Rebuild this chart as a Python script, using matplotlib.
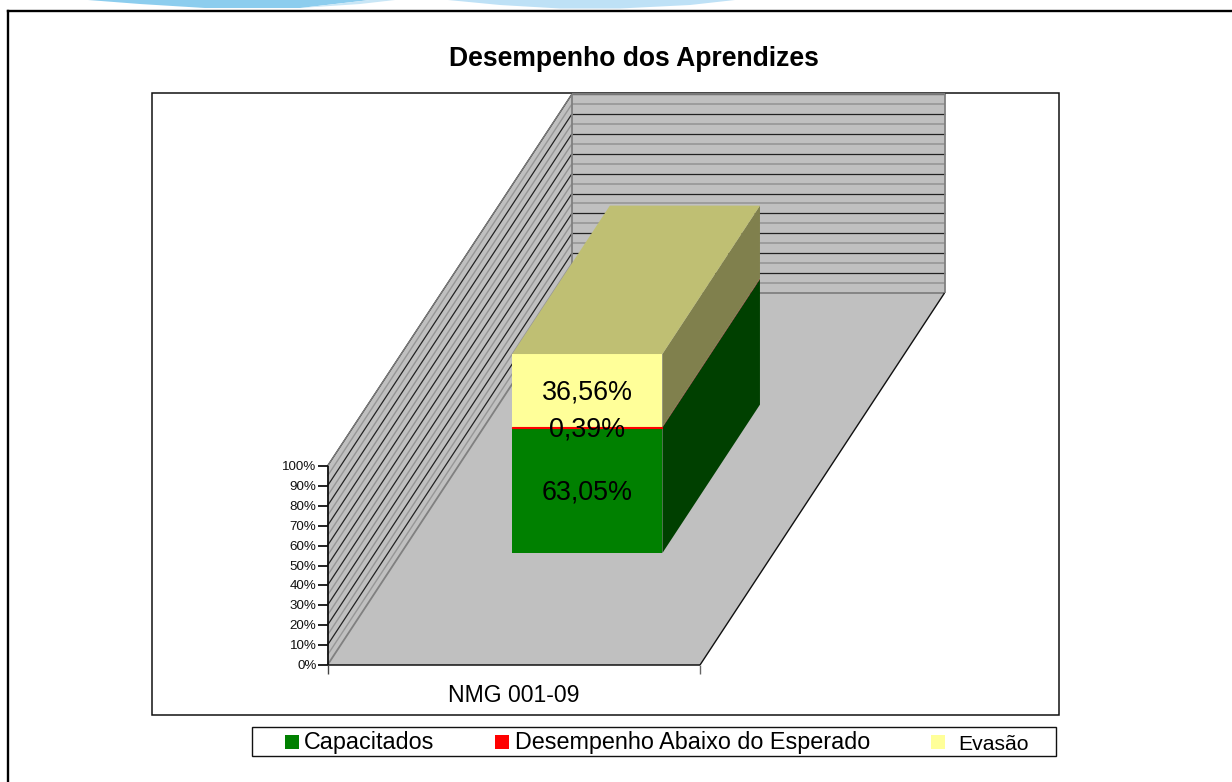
import matplotlib
matplotlib.use("Agg")
import matplotlib.pyplot as plt
from matplotlib.patches import Polygon, Rectangle

plt.rcParams['font.family'] = ['Liberation Sans', 'DejaVu Sans']

# ---- data ----
title = "Desempenho dos Aprendizes"
category = "NMG 001-09"
series_names = ["Capacitados", "Desempenho Abaixo do Esperado", "Evasão"]
series_values = [63.05, 0.39, 36.56]
series_labels = ["63,05%", "0,39%", "36,56%"]
tick_values = [0, 10, 20, 30, 40, 50, 60, 70, 80, 90, 100]
tick_labels = ["0%", "10%", "20%", "30%", "40%", "50%", "60%", "70%", "80%", "90%", "100%"]

# ---- styles ----
front_cols = ["#008000", "#FF0000", "#FFFF99"]
side_cols = ["#004000", "#800000", "#80804D"]
top_cols = ["#006000", "#C00000", "#BFBF73"]
face_edges = [0, 0.8, 0]
legend_sizes = [16.8, 16.8, 15.2]
wall = "#C0C0C0"
GRID_DARK = "#222222"
GRID_MINOR = "#979797"

# ---- layout: oblique projection of the 3-D chart box, in image pixels ----
ORG = (327.5, 665.0)
WIDTH = 372.5
DEPTH = (244.5, -372.0)
HEIGHT = 199.0
BAR_X0, BAR_X1 = 0.2985, 0.7015
BAR_D0, BAR_D1 = 0.301, 0.70


def P(x, d, v):
    """x: 0-1 across category, d: 0-1 depth, v: percent."""
    return (ORG[0] + WIDTH * x + DEPTH[0] * d,
            ORG[1] + DEPTH[1] * d - HEIGHT * v / 100.0)


fig = plt.figure(figsize=(12.32, 7.82), dpi=100, facecolor="white")
ax = fig.add_axes([0, 0, 1, 1])
ax.set_xlim(0, 1232)
ax.set_ylim(782, 0)
ax.axis("off")


def poly(pts, fc, z, ec="none", lw=0):
    ax.add_patch(Polygon(pts, closed=True, facecolor=fc, edgecolor=ec, linewidth=lw, zorder=z))


def line(a, b, c, lw, z):
    ax.plot([a[0], b[0]], [a[1], b[1]], color=c, lw=lw, zorder=z, solid_capstyle="butt")


# page decoration at the top
poly([(88, 0), (370, 0), (300, 8), (205, 8), (140, 4)], "#8CCDEE", 1)
poly([(300, 8), (370, 0), (395, 0), (360, 4)], "#C8E6F6", 1)
poly([(448, 0), (735, 0), (690, 5), (620, 8.5), (560, 8.5), (500, 5)], "#BEE1F6", 1)

# outer frame
ax.plot([8, 8], [782, 11], color="black", lw=1.7, zorder=2, solid_joinstyle="miter")
ax.plot([8, 1232], [11, 11], color="black", lw=1.7, zorder=2)

# chart area
ax.add_patch(Rectangle((152, 92.5), 906.5, 622, fc="white", ec="#111111", lw=1.1, zorder=2))

ax.text(633.5, 59.5, title, ha="center", va="center", fontsize=19.1, fontweight="bold", color="black", zorder=9)

# floor and walls
poly([P(0, 0, 0), P(1, 0, 0), P(1, 1, 0), P(0, 1, 0)], wall, 3)
poly([P(0, 1, 0), P(1, 1, 0), P(1, 1, 100), P(0, 1, 100)], wall, 3)
poly([P(0, 0, 0), P(0, 1, 0), P(0, 1, 100), P(0, 0, 100)], wall, 3)

for t in tick_values:
    if t < 100:
        m = t + 5
        line(P(0, 0, m), P(0, 1, m), GRID_MINOR, 1.0, 4)
        line(P(0, 1, m), P(1, 1, m), GRID_MINOR, 1.2, 4)
    if t > 0:
        line(P(0, 0, t), P(0, 1, t), GRID_DARK, 0.9, 4)
        line(P(0, 1, t), P(1, 1, t), GRID_DARK, 0.9, 4)

# wall edges
line(P(0, 0, 0), P(0, 1, 0), "#808080", 1.3, 5)
line(P(0, 1, 0), P(1, 1, 0), "#808080", 1.3, 5)
line(P(0, 1, 0), P(0, 1, 100), "#808080", 1.3, 5)
line(P(1, 1, 0), P(1, 1, 100), "#808080", 1.3, 5)
line(P(0, 1, 100), P(1, 1, 100), "#808080", 1.3, 5)
line(P(0, 0, 100), P(0, 1, 100), "#808080", 0.8, 5)

# axes
line(P(0, 0, 0), P(1, 0, 0), "#111111", 1.1, 6)
line(P(1, 0, 0), P(1, 1, 0), "#111111", 1.0, 6)
line(P(0, 0, 0), P(0, 0, 100), "#111111", 1.3, 6)
line(P(0, 0, 0), (P(0, 0, 0)[0], P(0, 0, 0)[1] + 9), "#444444", 1.0, 6)
line(P(1, 0, 0), (P(1, 0, 0)[0], P(1, 0, 0)[1] + 9), "#666666", 1.0, 6)
for t, lab in zip(tick_values, tick_labels):
    p = P(0, 0, t)
    line((p[0] - 10, p[1]), p, "#111111", 1.3, 6)
    ax.text(p[0] - 11, p[1] + 1, lab, ha="right", va="center", fontsize=9.6, color="#111111", zorder=6)

ax.text(P(0.5, 0, 0)[0], 695.5, category, ha="center", va="center", fontsize=16.6, color="black", zorder=6)

# stacked bar
base = 0.0
for val, sc in zip(series_values, side_cols):
    top = base + val
    poly([P(BAR_X1, BAR_D0, base), P(BAR_X1, BAR_D1, base), P(BAR_X1, BAR_D1, top), P(BAR_X1, BAR_D0, top)], sc, 7)
    base = top
base = 0.0
for val, fc, elw in zip(series_values, front_cols, face_edges):
    top = base + val
    poly([P(BAR_X0, BAR_D0, base), P(BAR_X1, BAR_D0, base), P(BAR_X1, BAR_D0, top), P(BAR_X0, BAR_D0, top)],
         fc, 7 + elw, ec=fc if elw else "none", lw=elw)
    base = top
poly([P(BAR_X0, BAR_D0, 100), P(BAR_X1, BAR_D0, 100), P(BAR_X1, BAR_D1, 100), P(BAR_X0, BAR_D1, 100)], top_cols[-1], 7)

# data labels
base = 0.0
for val, lab in zip(series_values, series_labels):
    px = P(0.5, BAR_D0, base + val / 2.0)
    ax.text(px[0], px[1] + 2.5, lab, ha="center", va="center", fontsize=19.4, color="black", zorder=9)
    base += val

# legend
ax.add_patch(Rectangle((252, 726.5), 803.5, 29, fc="white", ec="#111111", lw=1.0, zorder=2))
for name, col, mx, tx, fs in zip(series_names, front_cols, [285, 495, 931], [304, 515, 958], legend_sizes):
    ax.add_patch(Rectangle((mx, 735), 13.5, 13.5, fc=col, ec="none", zorder=3))
    ax.text(tx, 749.5, name, ha="left", va="baseline", fontsize=fs, color="black", zorder=3)

fig.savefig("out.png", dpi=100, facecolor="white")
